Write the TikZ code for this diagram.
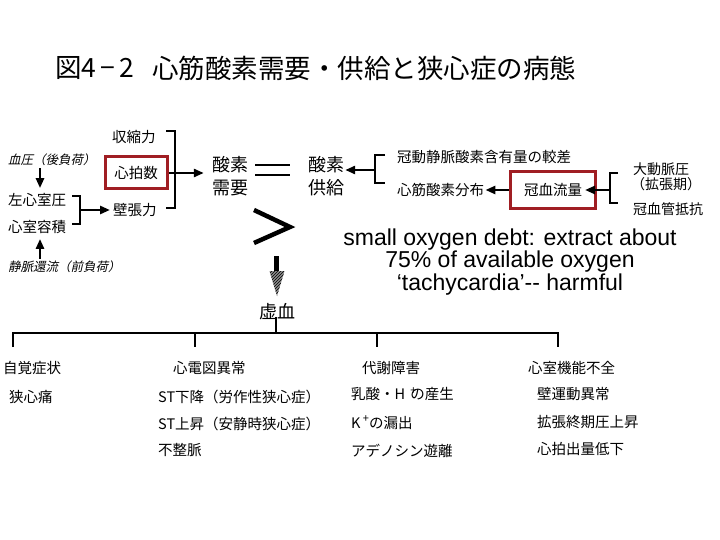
\documentclass[tikz,border=0pt]{standalone}
\usepackage{fontspec}
\setmainfont{Liberation Sans}
\newfontfamily\jp{Noto Sans CJK JP}
\newfontfamily\jpit{Noto Sans CJK JP}[FakeSlant=0.22]
\usetikzlibrary{arrows.meta,patterns}
\definecolor{boxred}{RGB}{160,30,35}
\begin{document}
\begin{tikzpicture}[x=1pt,y=-1pt,
  lbl/.style={font=\jp\fontsize{14.5}{17}\selectfont, inner sep=0pt, anchor=west},
  itl/.style={font=\jpit\fontsize{12.5}{15}\selectfont, inner sep=0pt, anchor=west},
  big/.style={font=\jp\fontsize{18}{23}\selectfont, inner sep=0pt, align=center},
  ttl/.style={font=\jp\fontsize{26.5}{30}\selectfont, inner sep=0pt, anchor=west},
  ln/.style={line width=2.5pt},
  arr/.style={line width=2.5pt, -{Triangle[length=10pt,width=8pt]}},
  redbox/.style={draw=boxred, line width=3pt, inner sep=0pt, anchor=center},
]
\fill[white] (0,0) rectangle (720,540);
\useasboundingbox (0,0) rectangle (720,540);

% title
\node[ttl] (fig) at (55,68) {図4\,−\,2};
\node[ttl] (title) at (152,68) {心筋酸素需要・供給と狭心症の病態};

% left column
\node[itl] (bp) at (8,160) {血圧（後負荷）};
\node[lbl] (lvp) at (8,200) {左心室圧};
\node[lbl] (vol) at (8,227) {心室容積};
\node[itl] (vr) at (8,267) {静脈還流（前負荷）};
\coordinate (x40) at (40,0);
\draw[arr, shorten <=2pt, shorten >=5pt] (bp.south -| x40) -- (lvp.north -| x40);
\draw[arr, shorten <=2pt, shorten >=5pt] (vr.north -| x40) -- (vol.south -| x40);
\draw[ln] (72,196) -- (80,196) -- (80,224) -- (72,224);
\coordinate (bl) at (80,210);

% contributors to demand
\node[lbl] (contr) at (112,137) {収縮力};
\node[lbl, redbox, minimum width=62pt, minimum height=32pt] (hr) at (136,173) {心拍数};
\node[lbl] (wall) at (113,210) {壁張力};
\draw[arr, shorten >=3pt] (bl) -- (bl -| wall.west);
\draw[ln] (166,131) -- (175,131) -- (175,208) -- (166,208);

% demand / supply
\node[big] (dem) at (230,176) {酸素\\需要};
\node[big] (sup) at (326,176) {酸素\\供給};
\draw[arr, shorten >=8pt] (hr.east) -- (hr.east -| dem.west);
\draw[ln] (255,165) -- (290,165);
\draw[ln] (255,175) -- (290,175);
\draw[line width=4.5pt] (254,210) -- (290,227) -- (254,243);

% supply side
\node[lbl] (avd) at (397,157) {冠動静脈酸素含有量の較差};
\node[lbl] (dist) at (397,190) {心筋酸素分布};
\node[lbl, redbox, minimum width=85pt, minimum height=37pt] (flow) at (553,190) {冠血流量};
\draw[ln] (385,155) -- (375,155) -- (375,183) -- (385,183);
\coordinate (bs) at (375,170);
\draw[arr, shorten >=1pt] (bs) -- (bs -| sup.east);
\draw[arr, shorten >=1pt] (flow.west) -- (dist.east);
\node[lbl, font=\jp\fontsize{14}{17}\selectfont] (aop) at (633,169) {大動脈圧};
\node[lbl, font=\jp\fontsize{14}{17}\selectfont] (dia) at (631,184) {（拡張期）};
\node[lbl, font=\jp\fontsize{14}{17}\selectfont] (res) at (633,209) {冠血管抵抗};
\draw[ln] (618,173) -- (610,173) -- (610,203) -- (618,203);
\coordinate (br) at (610,190);
\draw[arr, shorten >=-12pt] (br) -- (flow.east);

% english note
\node[font=\fontsize{23}{20.5}\selectfont, align=center, inner sep=0pt] (note) at (510,262)
  {small oxygen debt: extract about\\75\% of available oxygen\\‘tachycardia’-{}- harmful};

% ischemia arrow
\fill[black] (273.5,256) rectangle (278.5,272);
\fill[black!45] (269.5,271) -- (284.5,271) -- (277,296) -- cycle;
\fill[pattern=north east lines, pattern color=black] (269.5,271) -- (284.5,271) -- (277,296) -- cycle;
\node[big] (isc) at (277,312) {虚血};

% tree
\coordinate (tree) at (276,333);
\draw[line width=2pt] (isc.south -| tree) ++(0,-3) -- (tree);
\draw[ln] (13,347) -- (13,333) -- (558,333) -- (558,347);
\draw[ln] (195,333) -- (195,347);
\draw[ln] (377,333) -- (377,347);

% columns
\node[lbl] (h1) at (3,368) {自覚症状};
\node[lbl] (h2) at (173,368) {心電図異常};
\node[lbl] (h3) at (362,368) {代謝障害};
\node[lbl] (h4) at (528,368) {心室機能不全};

\node[lbl] (a1) at (9,397) {狭心痛};
\node[lbl] (b1) at (158,397) {ST下降（労作性狭心症）};
\node[lbl] (b2) at (158,424) {ST上昇（安静時狭心症）};
\node[lbl] (b3) at (158,450) {不整脈};
\node[lbl] (c1) at (351,394) {乳酸・H\hspace{5pt}\rlap{\raisebox{5pt}{\fontsize{11}{11}\selectfont +}}の産生};
\node[lbl] (c2) at (351,423) {K\,\raisebox{6pt}{\fontsize{11}{11}\selectfont +}の漏出};
\node[lbl] (c3) at (351,451) {アデノシン遊離};
\node[lbl] (d1) at (537,394) {壁運動異常};
\node[lbl] (d2) at (537,422) {拡張終期圧上昇};
\node[lbl] (d3) at (537,449) {心拍出量低下};
\end{tikzpicture}
\end{document}
